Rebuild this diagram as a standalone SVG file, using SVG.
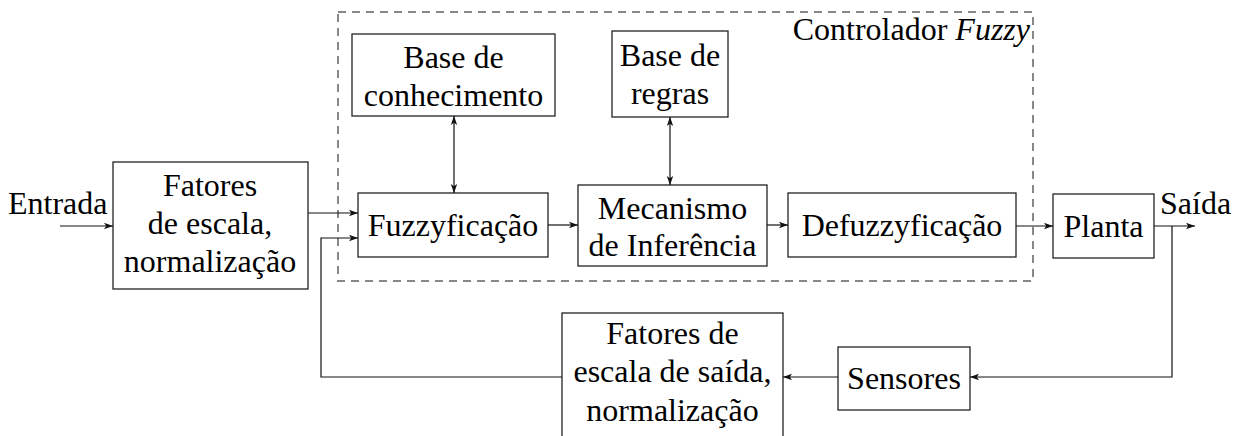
<svg xmlns="http://www.w3.org/2000/svg" width="1243" height="436" viewBox="0 0 1243 436">
<defs>
<marker id="ah" markerUnits="userSpaceOnUse" markerWidth="10" markerHeight="8" refX="9" refY="4" orient="auto">
<path d="M0,0.8 L9,4 L0,7.2 L2.2,4 Z" fill="#111"/>
</marker>
<marker id="as" markerUnits="userSpaceOnUse" markerWidth="10" markerHeight="8" refX="1" refY="4" orient="auto">
<path d="M10,0.8 L1,4 L10,7.2 L7.8,4 Z" fill="#111"/>
</marker>
</defs>
<g id="controller-frame">
<rect x="338" y="12" width="695" height="269" fill="none" stroke="#888" stroke-width="2" stroke-dasharray="8,6"/>
<text font-family="Times New Roman" font-size="32" text-anchor="end" x="1030" y="40">Controlador <tspan font-style="italic">Fuzzy</tspan></text>
</g>
<g id="entrada"><text font-family="Times New Roman" font-size="32" x="8" y="214">Entrada</text></g>
<g id="saida"><text font-family="Times New Roman" font-size="32" x="1160" y="214">Saída</text></g>
<g id="fatores-entrada">
<rect x="113" y="162" width="195" height="127" fill="#fff" stroke="#222" stroke-width="1.3"/>
<text font-family="Times New Roman" font-size="32" text-anchor="middle" x="210" y="196">Fatores</text>
<text font-family="Times New Roman" font-size="32" text-anchor="middle" x="210" y="234">de escala,</text>
<text font-family="Times New Roman" font-size="32" text-anchor="middle" x="210" y="272">normalização</text>
</g>
<g id="base-conhecimento">
<rect x="352" y="34" width="203" height="82" fill="#fff" stroke="#222" stroke-width="1.3"/>
<text font-family="Times New Roman" font-size="32" text-anchor="middle" x="453.5" y="68">Base de</text>
<text font-family="Times New Roman" font-size="32" text-anchor="middle" x="453.5" y="106">conhecimento</text>
</g>
<g id="base-regras">
<rect x="612" y="31" width="116" height="86" fill="#fff" stroke="#222" stroke-width="1.3"/>
<text font-family="Times New Roman" font-size="32" text-anchor="middle" x="670" y="66">Base de</text>
<text font-family="Times New Roman" font-size="32" text-anchor="middle" x="670" y="104">regras</text>
</g>
<g id="fuzzyficacao">
<rect x="358" y="193" width="190" height="64" fill="#fff" stroke="#222" stroke-width="1.3"/>
<text font-family="Times New Roman" font-size="32" text-anchor="middle" x="453" y="236">Fuzzyficação</text>
</g>
<g id="mecanismo">
<rect x="578" y="185" width="189" height="81" fill="#fff" stroke="#222" stroke-width="1.3"/>
<text font-family="Times New Roman" font-size="32" text-anchor="middle" x="672.5" y="219">Mecanismo</text>
<text font-family="Times New Roman" font-size="32" text-anchor="middle" x="672.5" y="256">de Inferência</text>
</g>
<g id="defuzzyficacao">
<rect x="788" y="193" width="228" height="64" fill="#fff" stroke="#222" stroke-width="1.3"/>
<text font-family="Times New Roman" font-size="32" text-anchor="middle" x="902" y="236">Defuzzyficação</text>
</g>
<g id="planta">
<rect x="1053" y="194" width="101" height="64" fill="#fff" stroke="#222" stroke-width="1.3"/>
<text font-family="Times New Roman" font-size="32" text-anchor="middle" x="1103.5" y="237">Planta</text>
</g>
<g id="sensores">
<rect x="838" y="347" width="132" height="63" fill="#fff" stroke="#222" stroke-width="1.3"/>
<text font-family="Times New Roman" font-size="32" text-anchor="middle" x="904" y="389">Sensores</text>
</g>
<g id="fatores-saida">
<rect x="562" y="313" width="221" height="140" fill="#fff" stroke="#222" stroke-width="1.3"/>
<text font-family="Times New Roman" font-size="32" text-anchor="middle" x="672.5" y="344">Fatores de</text>
<text font-family="Times New Roman" font-size="32" text-anchor="middle" x="672.5" y="382">escala de saída,</text>
<text font-family="Times New Roman" font-size="32" text-anchor="middle" x="672.5" y="421">normalização</text>
</g>
<g id="connectors" fill="none" stroke="#111" stroke-width="1.2">
<line x1="60" y1="226" x2="113" y2="226" marker-end="url(#ah)"/>
<line x1="308" y1="213" x2="358" y2="213" marker-end="url(#ah)"/>
<polyline points="562,377 321,377 321,238 358,238" marker-end="url(#ah)"/>
<line x1="454" y1="116" x2="454" y2="193" marker-start="url(#as)" marker-end="url(#ah)"/>
<line x1="670" y1="117" x2="670" y2="185" marker-start="url(#as)" marker-end="url(#ah)"/>
<line x1="548" y1="225" x2="578" y2="225" marker-end="url(#ah)"/>
<line x1="767" y1="225" x2="788" y2="225" marker-end="url(#ah)"/>
<line x1="1016" y1="226" x2="1053" y2="226" marker-end="url(#ah)"/>
<line x1="1154" y1="226" x2="1195" y2="226" marker-end="url(#ah)"/>
<polyline points="1172,226 1172,377 970,377" marker-end="url(#ah)"/>
<line x1="838" y1="377" x2="783" y2="377" marker-end="url(#ah)"/>
</g>
</svg>
